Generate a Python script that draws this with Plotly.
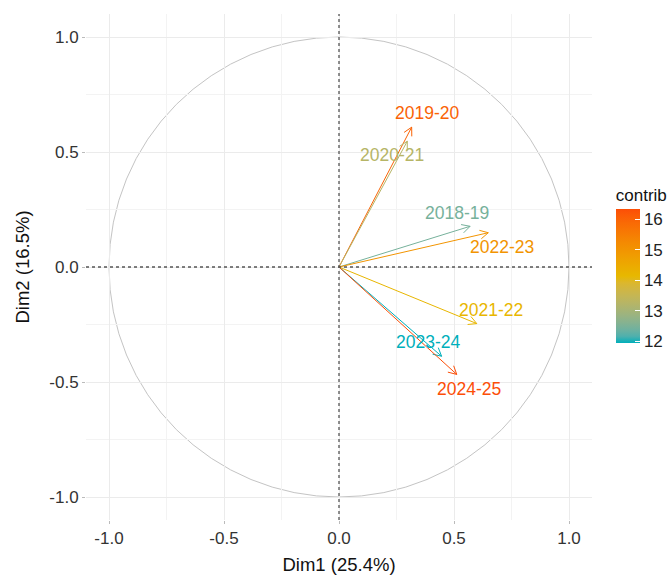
import math
import plotly.graph_objects as go

# Variable correlation circle: seasons projected on Dim1 / Dim2
seasons = ["2018-19", "2019-20", "2020-21", "2021-22", "2022-23", "2023-24", "2024-25"]
dim1 = [0.570, 0.316, 0.297, 0.599, 0.649, 0.446, 0.512]
dim2 = [0.177, 0.608, 0.547, -0.246, 0.149, -0.388, -0.467]
contrib = [12.45, 16.0, 13.25, 14.2, 15.0, 11.95, 16.33]

# label positions (repelled away from the arrow tips)
label_x = [0.513, 0.382, 0.229, 0.659, 0.707, 0.388, 0.567]
label_y = [0.233, 0.670, 0.485, -0.188, 0.088, -0.327, -0.530]

gradient_cols = ["#00AFBB", "#E7B800", "#FC4E07"]
FONT = "Liberation Sans, Arial, sans-serif"


# --- colour interpolation in CIE Lab (as ggplot's gradientn does) ---
def _hex_to_rgb(h):
    h = h.lstrip("#")
    return [int(h[i:i + 2], 16) / 255 for i in (0, 2, 4)]


def _lin(c):
    return c / 12.92 if c <= 0.04045 else ((c + 0.055) / 1.055) ** 2.4


def _gam(c):
    c = min(max(c, 0.0), 1.0)
    return 12.92 * c if c <= 0.0031308 else 1.055 * c ** (1 / 2.4) - 0.055


WHITE = (0.95047, 1.0, 1.08883)


def _to_lab(h):
    r, g, b = (_lin(c) for c in _hex_to_rgb(h))
    X = 0.4124 * r + 0.3576 * g + 0.1805 * b
    Y = 0.2126 * r + 0.7152 * g + 0.0722 * b
    Z = 0.0193 * r + 0.1192 * g + 0.9505 * b

    def f(t):
        return t ** (1 / 3) if t > 216 / 24389 else (24389 / 27 * t + 16) / 116

    fx, fy, fz = f(X / WHITE[0]), f(Y / WHITE[1]), f(Z / WHITE[2])
    return (116 * fy - 16, 500 * (fx - fy), 200 * (fy - fz))


def _from_lab(L, a, b):
    fy = (L + 16) / 116
    fx = fy + a / 500
    fz = fy - b / 200

    def finv(t):
        return t ** 3 if t ** 3 > 216 / 24389 else (116 * t - 16) / (24389 / 27)

    X, Y, Z = finv(fx) * WHITE[0], finv(fy) * WHITE[1], finv(fz) * WHITE[2]
    r = 3.2406 * X - 1.5372 * Y - 0.4986 * Z
    g = -0.9689 * X + 1.8758 * Y + 0.0415 * Z
    bl = 0.0557 * X - 0.2040 * Y + 1.0570 * Z
    return "#%02x%02x%02x" % tuple(round(_gam(c) * 255) for c in (r, g, bl))


LABS = [_to_lab(c) for c in gradient_cols]


def lab_colour(t):
    t = min(max(t, 0.0), 1.0)
    seg = min(int(t * (len(LABS) - 1)), len(LABS) - 2)
    u = t * (len(LABS) - 1) - seg
    p, q = LABS[seg], LABS[seg + 1]
    return _from_lab(*(p[i] + (q[i] - p[i]) * u for i in range(3)))


cmin, cmax = min(contrib), max(contrib)
colorscale = [[i / 20, lab_colour(i / 20)] for i in range(21)]
colors = [lab_colour((c - cmin) / (cmax - cmin)) for c in contrib]

fig = go.Figure()

# arrows from the origin with open "V" heads
HEAD = 0.040
ANG = math.radians(28)
for name, x, y, c in zip(seasons, dim1, dim2, colors):
    th = math.atan2(y, x)
    hx1 = x - HEAD * math.cos(th - ANG)
    hy1 = y - HEAD * math.sin(th - ANG)
    hx2 = x - HEAD * math.cos(th + ANG)
    hy2 = y - HEAD * math.sin(th + ANG)
    fig.add_trace(go.Scatter(
        x=[0, x, None, hx1, x, hx2], y=[0, y, None, hy1, y, hy2],
        mode="lines", line=dict(color=c, width=1), hoverinfo="skip",
        showlegend=False, name=name,
    ))

# invisible points carrying the colour scale
fig.add_trace(go.Scatter(
    x=dim1, y=dim2, mode="markers", hoverinfo="skip", showlegend=False,
    marker=dict(
        size=1, color=contrib, colorscale=colorscale, cmin=cmin, cmax=cmax,
        opacity=0.01,
        showscale=True,
        colorbar=dict(
            title=dict(text="contrib", side="top", font=dict(size=17, color="#111", family=FONT)),
            x=1.047, xanchor="left", y=0.662, yanchor="top",
            len=158, lenmode="pixels", thickness=24, thicknessmode="pixels",
            outlinewidth=0, tickvals=[12, 13, 14, 15, 16],
            ticks="inside", ticklen=5, tickcolor="white", tickwidth=1,
            tickfont=dict(size=17, color="#222", family=FONT),
            xpad=0, ypad=0,
        ),
    ),
))

shapes = [
    dict(type="circle", xref="x", yref="y", x0=-1, y0=-1, x1=1, y1=1,
         line=dict(color="#c4c4c4", width=1), layer="below"),
    dict(type="line", xref="x", yref="y", x0=-1.1, x1=1.1, y0=0, y1=0,
         line=dict(color="#555", width=1.3, dash="3px,3px")),
    dict(type="line", xref="x", yref="y", x0=0, x1=0, y0=-1.1, y1=1.1,
         line=dict(color="#555", width=1.3, dash="3px,3px")),
]

annotations = []
for name, c, lx, ly in zip(seasons, colors, label_x, label_y):
    annotations.append(dict(
        x=lx, y=ly, xref="x", yref="y", text=name, showarrow=False,
        font=dict(size=17.5, color=c, family=FONT),
    ))

axis_common = dict(
    range=[-1.1, 1.1], tickvals=[-1.0, -0.5, 0.0, 0.5, 1.0],
    ticktext=["-1.0", "-0.5", "0.0", "0.5", "1.0"],
    showgrid=True, gridcolor="#ebebeb", gridwidth=1,
    minor=dict(dtick=0.25, tick0=0.25, showgrid=True, gridcolor="#f3f3f3", gridwidth=0.8),
    zeroline=False, showline=False,
    ticks="outside", ticklen=3, tickcolor="#bbbbbb", tickwidth=1,
    tickfont=dict(size=17, color="#333", family=FONT),
)

fig.update_layout(
    width=670, height=577,
    margin=dict(l=86, r=78, t=14, b=57, autoexpand=False),
    paper_bgcolor="white", plot_bgcolor="white",
    xaxis=dict(**axis_common, title=dict(text="Dim1 (25.4%)", standoff=10,
                                         font=dict(size=18.5, color="#111", family=FONT))),
    yaxis=dict(**axis_common, title=dict(text="Dim2 (16.5%)", standoff=14,
                                         font=dict(size=18.5, color="#111", family=FONT))),
    shapes=shapes, annotations=annotations,
)

fig.write_html("out.html")
